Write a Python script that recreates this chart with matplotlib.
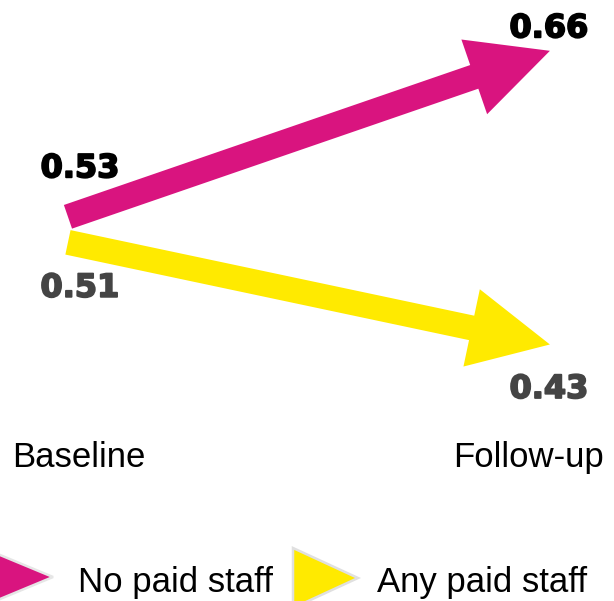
import matplotlib
matplotlib.use("Agg")
import matplotlib.pyplot as plt
from matplotlib.patches import Polygon
import matplotlib.patheffects as pe

# ---- data ----
periods = ["Baseline", "Follow-up"]
series_names = ["No paid staff", "Any paid staff"]
no_paid_staff = [0.53, 0.66]
any_paid_staff = [0.51, 0.43]
colors = ["#D9147F", "#FFEA00"]
label_colors = ["#000000", "#444444"]

DPI = 100
W, H = 614, 601
fig = plt.figure(figsize=(W / DPI, H / DPI), dpi=DPI)
ax = fig.add_axes([0, 0, 1, 1])
ax.set_xlim(-0.141, 1.133)
ax.set_ylim(0.2291, 0.6998)
ax.axis("off")

px = 72.0 / DPI  # points per pixel

series = [no_paid_staff, any_paid_staff]
for vals, col in zip(series, colors):
    ax.annotate("", xy=(1, vals[1]), xytext=(0, vals[0]),
                arrowprops=dict(arrowstyle="simple,head_length=%f,head_width=%f,tail_width=%f"
                                % (80 * px, 79 * px, 25 * px),
                                color=col, shrinkA=0, shrinkB=0, mutation_scale=1, lw=0))

# value labels
stroke = [pe.withStroke(linewidth=1.2, foreground=None)]
def vlabel(val, x, dx, dy, color):
    t = ax.annotate(f"{val:.2f}", xy=(x, val), xytext=(dx * px, dy * px),
                    textcoords="offset points", color=color, fontsize=23,
                    fontweight="bold", family="DejaVu Sans", ha="center", va="center")
    t.set_path_effects([pe.withStroke(linewidth=1.3, foreground=color)])

vlabel(no_paid_staff[0], 0, 12, 48, label_colors[0])
vlabel(no_paid_staff[1], 1, -1, 22, label_colors[0])
vlabel(any_paid_staff[0], 0, 12, -46, label_colors[1])
vlabel(any_paid_staff[1], 1, -1, -45, label_colors[1])

# period labels (x anchored at category positions, y in figure pixels)
cat_font = dict(fontsize=25, family="Liberation Sans", va="baseline", color="#000000")
ax.annotate(periods[0], xy=(0, H - 467), xycoords=("data", "figure pixels"),
            xytext=(-56, 0), textcoords="offset pixels", ha="left", **cat_font)
ax.annotate(periods[1], xy=(1, H - 467), xycoords=("data", "figure pixels"),
            xytext=(-97, 0), textcoords="offset pixels", ha="left", **cat_font)

# legend (manual)
def tri(x0, ytop, w, h, col, edge):
    pts = [(x0 / W, 1 - ytop / H), (x0 / W, 1 - (ytop + h) / H), ((x0 + w) / W, 1 - (ytop + h / 2) / H)]
    fig.patches.append(Polygon(pts, closed=True, transform=fig.transFigure, facecolor=col,
                               edgecolor=edge, lw=1.8, joinstyle="miter"))

tri(-12, 550, 65, 54, colors[0], "#E6E6E6")
tri(293, 548, 65, 60, colors[1], "#E0E0E0")
fig.text(78 / W, 1 - 592 / H, series_names[0], fontsize=25, family="Liberation Sans",
         ha="left", va="baseline")
fig.text(377 / W, 1 - 592 / H, series_names[1], fontsize=25, family="Liberation Sans",
         ha="left", va="baseline")

fig.savefig("out.png", dpi=DPI)
